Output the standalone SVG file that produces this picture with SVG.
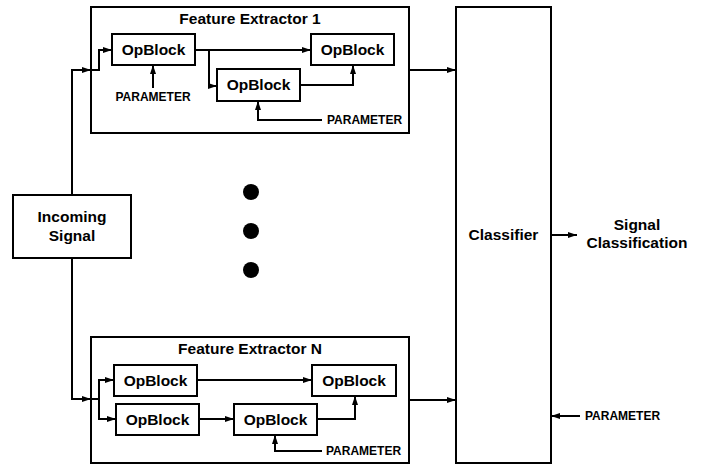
<svg xmlns="http://www.w3.org/2000/svg" width="704" height="466" viewBox="0 0 704 466">
  <defs>
    <marker id="arrow" markerUnits="userSpaceOnUse" markerWidth="10" markerHeight="8" refX="9" refY="4" orient="auto">
      <path d="M0,1 L9,4 L0,7 Z" fill="#000"/>
    </marker>
  </defs>
  <style>
    .box { fill: #fff; stroke: #000; stroke-width: 2; }
    .frame { fill: none; stroke: #000; stroke-width: 2; }
    .wire { fill: none; stroke: #000; stroke-width: 2; }
    .arr { marker-end: url(#arrow); }
    .lbl { font-family: "Liberation Sans", Arial, sans-serif; font-weight: bold; font-size: 15.5px; text-anchor: middle; fill: #000; }
    .par { font-family: "Liberation Sans", Arial, sans-serif; font-weight: bold; font-size: 12px; fill: #000; }
  </style>
  <rect width="704" height="466" fill="#fff"/>

  <!-- connectors -->
  <g id="connectors">
    <!-- incoming signal to both extractors -->
    <path class="wire arr" d="M72,195 V70 H91"/>
    <path class="wire arr" d="M72,258 V399 H91"/>
    <!-- extractor 1 internals -->
    <path class="wire arr" d="M91,70 H99 V50 H112"/>
    <path class="wire arr" d="M195,50 H311"/>
    <path class="wire arr" d="M209,50 V86 H217"/>
    <path class="wire arr" d="M300,85 H353 V65"/>
    <path class="wire arr" d="M153,88 V65"/>
    <path class="wire arr" d="M322,120 H258 V101"/>
    <!-- extractor N internals -->
    <path class="wire arr" d="M91,399 H99 V380 H114"/>
    <path class="wire arr" d="M99,399 V419 H116"/>
    <path class="wire arr" d="M197,380 H312"/>
    <path class="wire arr" d="M199,419 H234"/>
    <path class="wire arr" d="M317,419 H355 V396"/>
    <path class="wire arr" d="M322,451 H275 V435"/>
    <!-- extractors to classifier -->
    <path class="wire arr" d="M409,70 H456"/>
    <path class="wire arr" d="M409,400 H456"/>
    <!-- classifier output and parameter -->
    <path class="wire arr" d="M551,235 H577"/>
    <path class="wire arr" d="M580,416 H551"/>
  </g>

  <g id="incoming-signal">
    <rect class="box" x="13" y="195" width="118" height="63"/>
    <text class="lbl" x="72" y="222">Incoming</text>
    <text class="lbl" x="72" y="241">Signal</text>
  </g>

  <g id="feature-extractor-1">
    <rect class="frame" x="91" y="7" width="318" height="126"/>
    <text class="lbl" x="250" y="24">Feature Extractor 1</text>
    <g id="fe1-opblock-a">
      <rect class="box" x="112" y="34" width="83" height="31"/>
      <text class="lbl" x="153.5" y="55">OpBlock</text>
    </g>
    <g id="fe1-opblock-b">
      <rect class="box" x="311" y="34" width="83" height="31"/>
      <text class="lbl" x="352.5" y="55">OpBlock</text>
    </g>
    <g id="fe1-opblock-c">
      <rect class="box" x="217" y="69" width="83" height="32"/>
      <text class="lbl" x="258.5" y="90">OpBlock</text>
    </g>
    <text class="par" x="153" y="101" text-anchor="middle">PARAMETER</text>
    <text class="par" x="327" y="124">PARAMETER</text>
  </g>

  <g id="ellipsis">
    <circle cx="251" cy="192" r="8"/>
    <circle cx="251" cy="231" r="8"/>
    <circle cx="251" cy="270" r="8"/>
  </g>

  <g id="feature-extractor-n">
    <rect class="frame" x="91" y="337" width="318" height="126"/>
    <text class="lbl" x="250" y="354">Feature Extractor N</text>
    <g id="fen-opblock-a">
      <rect class="box" x="114" y="365" width="83" height="31"/>
      <text class="lbl" x="155.5" y="386">OpBlock</text>
    </g>
    <g id="fen-opblock-b">
      <rect class="box" x="312" y="365" width="84" height="31"/>
      <text class="lbl" x="354" y="386">OpBlock</text>
    </g>
    <g id="fen-opblock-c">
      <rect class="box" x="116" y="404" width="83" height="31"/>
      <text class="lbl" x="157.5" y="425">OpBlock</text>
    </g>
    <g id="fen-opblock-d">
      <rect class="box" x="234" y="404" width="83" height="31"/>
      <text class="lbl" x="275.5" y="425">OpBlock</text>
    </g>
    <text class="par" x="326" y="455">PARAMETER</text>
  </g>

  <g id="classifier">
    <rect class="box" x="456" y="7" width="95" height="456"/>
    <text class="lbl" x="503.5" y="240">Classifier</text>
    <text class="par" x="585" y="420">PARAMETER</text>
  </g>

  <g id="signal-classification">
    <text class="lbl" x="637" y="230">Signal</text>
    <text class="lbl" x="637" y="248">Classification</text>
  </g>
</svg>
